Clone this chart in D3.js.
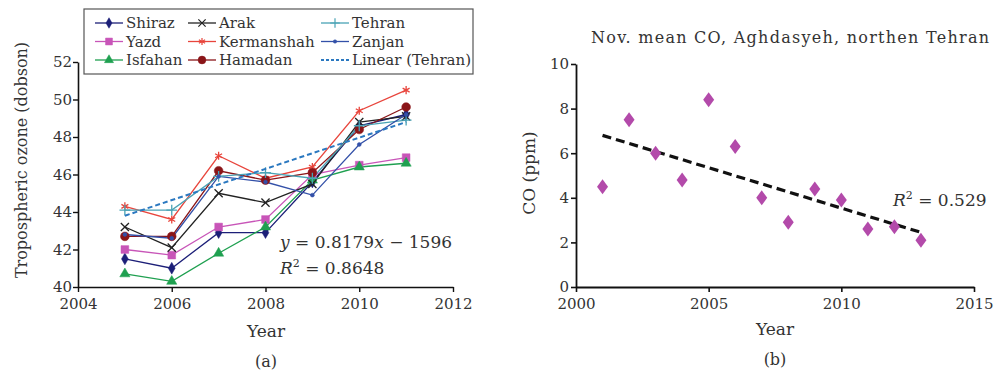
<!DOCTYPE html>
<html><head><meta charset="utf-8">
<script src="https://cdn.jsdelivr.net/npm/d3@7"></script>
<style>
html,body{margin:0;padding:0;background:#fff;}
svg{display:block;font-family:"DejaVu Serif","Liberation Serif",serif;}
</style></head><body>
<svg id="c" width="996" height="376"></svg>
<script>
// ---------- data (a) ----------
const yearsA = [2005, 2006, 2007, 2008, 2009, 2010, 2011];
const shiraz     = [41.5, 41.0, 42.9, 42.9, 45.6, 48.6, 49.2];
const yazd       = [42.0, 41.7, 43.2, 43.6, 46.0, 46.5, 46.9];
const isfahan    = [40.7, 40.3, 41.8, 43.2, 45.7, 46.4, 46.6];
const arak       = [43.2, 42.1, 45.0, 44.5, 45.5, 48.8, 49.1];
const kermanshah = [44.3, 43.6, 47.0, 45.8, 46.4, 49.4, 50.5];
const hamadan    = [42.7, 42.7, 46.2, 45.7, 46.1, 48.4, 49.6];
const tehran     = [44.1, 44.1, 45.9, 46.1, 45.8, 48.6, 48.9];
const zanjan     = [42.8, 42.6, 45.9, 45.6, 44.9, 47.6, 49.2];
const trendYearsA = [2005, 2011];
const trendTehran = [43.8, 48.8];
const xTicksA = [2004, 2006, 2008, 2010, 2012];
const yTicksA = [40, 42, 44, 46, 48, 50, 52];

// ---------- data (b) ----------
const yearsB = [2001,2002,2003,2004,2005,2006,2007,2008,2009,2010,2011,2012,2013];
const coValues = [4.5, 7.5, 6.0, 4.8, 8.4, 6.3, 4.0, 2.9, 4.4, 3.9, 2.6, 2.7, 2.1];
const trendYearsB = [2001, 2013];
const trendCO = [6.8, 2.45];
const xTicksB = [2000, 2005, 2010, 2015];
const yTicksB = [0, 2, 4, 6, 8, 10];

const seriesA = [
  {name:"Shiraz", values:shiraz, color:"#1c1f78", sym:d3.symbolDiamond, size:40, fill:true},
  {name:"Yazd", values:yazd, color:"#c855b8", sym:d3.symbolSquare, size:60, fill:true},
  {name:"Isfahan", values:isfahan, color:"#1fa050", sym:d3.symbolTriangle, size:45, fill:true},
  {name:"Arak", values:arak, color:"#222222", sym:d3.symbolTimes, size:45, fill:false},
  {name:"Kermanshah", values:kermanshah, color:"#e8453c", sym:d3.symbolAsterisk, size:45, fill:false},
  {name:"Hamadan", values:hamadan, color:"#8a1518", sym:d3.symbolCircle, size:60, fill:true},
  {name:"Tehran", values:tehran, color:"#4aa3b5", sym:d3.symbolPlus, size:40, fill:false},
  {name:"Zanjan", values:zanjan, color:"#3350a8", sym:d3.symbolCircle, size:12, fill:true}
];
const legendOrder = ["Shiraz","Yazd","Isfahan","Arak","Kermanshah","Hamadan","Tehran","Zanjan"];

const svg = d3.select("#c");
const txt = "#333";
const FS = 15;

// ================= Chart (a) =================
const xA = d3.scaleLinear().domain([2004, 2012]).range([78, 453]);
const yA = d3.scaleLinear().domain([40, 52]).range([287, 62]);

const gA = svg.append("g");
const axXA = gA.append("g").attr("transform", `translate(0,${yA(40)})`)
  .call(d3.axisBottom(xA).tickValues(xTicksA).tickFormat(d3.format("d")).tickSize(5).tickSizeOuter(0));
const axYA = gA.append("g").attr("transform", `translate(${xA(2004)},0)`)
  .call(d3.axisLeft(yA).tickValues(yTicksA).tickSize(5).tickSizeOuter(0));
[axXA, axYA].forEach(a => {
  a.select(".domain").attr("stroke", "#111").attr("stroke-width", 1.6);
  a.selectAll(".tick line").attr("stroke", "#111").attr("stroke-width", 1.4);
  a.selectAll(".tick text").attr("fill", txt).attr("font-size", FS).attr("font-family", "DejaVu Serif");
});
axXA.selectAll(".tick text").attr("dy", "0.95em");
axYA.selectAll(".tick text").attr("x", -6);

const lineA = d3.line().x((d,i) => xA(yearsA[i])).y(d => yA(d));
seriesA.forEach(s => {
  gA.append("path").datum(s.values).attr("d", lineA)
    .attr("fill", "none").attr("stroke", s.color).attr("stroke-width", 1.3);
});
seriesA.forEach(s => {
  const sym = d3.symbol().type(s.sym).size(s.size);
  gA.selectAll(null).data(s.values).enter().append("path")
    .attr("d", sym)
    .attr("transform", (d,i) => `translate(${xA(yearsA[i])},${yA(d)})`)
    .attr("fill", s.fill ? s.color : "none")
    .attr("stroke", s.color).attr("stroke-width", s.fill ? 0.5 : 1.3);
});
// linear trend Tehran
gA.append("path").datum(trendTehran)
  .attr("d", d3.line().x((d,i) => xA(trendYearsA[i])).y(d => yA(d)))
  .attr("fill", "none").attr("stroke", "#2a78c0").attr("stroke-width", 2).attr("stroke-dasharray", "5,3");

// equation
const eq = gA.append("text").attr("x", 280).attr("y", 248).attr("fill", txt).attr("font-size", 17);
eq.append("tspan").attr("font-style", "italic").text("y");
eq.append("tspan").text(" = 0.8179");
eq.append("tspan").attr("font-style", "italic").text("x");
eq.append("tspan").text(" − 1596");
const r2a = gA.append("text").attr("x", 280).attr("y", 274).attr("fill", txt).attr("font-size", 17);
r2a.append("tspan").attr("font-style", "italic").text("R");
r2a.append("tspan").attr("font-size", 11).attr("dy", -7).text("2");
r2a.append("tspan").attr("dy", 7).text(" = 0.8648");

// axis titles
gA.append("text").attr("transform", "translate(27,160) rotate(-90)").attr("text-anchor", "middle")
  .attr("fill", txt).attr("font-size", 16).text("Tropospheric ozone (dobson)");
gA.append("text").attr("x", 266).attr("y", 337).attr("text-anchor", "middle")
  .attr("fill", txt).attr("font-size", 17).text("Year");
gA.append("text").attr("x", 266).attr("y", 367).attr("text-anchor", "middle")
  .attr("fill", txt).attr("font-size", 16).text("(a)");

// legend
const leg = gA.append("g");
leg.append("rect").attr("x", 84).attr("y", 9).attr("width", 389).attr("height", 65)
  .attr("fill", "#fff").attr("stroke", "#555").attr("stroke-width", 1.2);
const colX = [95, 188, 321];
const rowY = [23, 41.5, 60];
legendOrder.forEach((n, k) => {
  const s = seriesA.find(t => t.name === n);
  const cx = colX[Math.floor(k / 3)], cy = rowY[k % 3];
  leg.append("line").attr("x1", cx).attr("x2", cx + 28).attr("y1", cy).attr("y2", cy)
    .attr("stroke", s.color).attr("stroke-width", 1.3);
  leg.append("path").attr("d", d3.symbol().type(s.sym).size(s.size * 0.8)())
    .attr("transform", `translate(${cx + 14},${cy})`)
    .attr("fill", s.fill ? s.color : "none").attr("stroke", s.color).attr("stroke-width", s.fill ? 0.5 : 1.2);
  leg.append("text").attr("x", cx + 31).attr("y", cy).attr("dy", "0.36em")
    .attr("fill", txt).attr("font-size", FS).text(n);
});
leg.append("line").attr("x1", colX[2]).attr("x2", colX[2] + 28).attr("y1", rowY[2]).attr("y2", rowY[2])
  .attr("stroke", "#2a78c0").attr("stroke-width", 2).attr("stroke-dasharray", "3,2");
leg.append("text").attr("x", colX[2] + 31).attr("y", rowY[2]).attr("dy", "0.36em")
  .attr("fill", txt).attr("font-size", FS).text("Linear (Tehran)");

// ================= Chart (b) =================
const xB = d3.scaleLinear().domain([2000, 2015]).range([576, 974]);
const yB = d3.scaleLinear().domain([0, 10]).range([287, 64]);
const gB = svg.append("g");
const axXB = gB.append("g").attr("transform", `translate(0,${yB(0)})`)
  .call(d3.axisBottom(xB).tickValues(xTicksB).tickFormat(d3.format("d")).tickSize(5).tickSizeOuter(0));
const axYB = gB.append("g").attr("transform", `translate(${xB(2000)},0)`)
  .call(d3.axisLeft(yB).tickValues(yTicksB).tickSize(5).tickSizeOuter(0));
[axXB, axYB].forEach(a => {
  a.select(".domain").attr("stroke", "#111").attr("stroke-width", 1.8);
  a.selectAll(".tick line").attr("stroke", "#111").attr("stroke-width", 1.6);
  a.selectAll(".tick text").attr("fill", txt).attr("font-size", FS).attr("font-family", "DejaVu Serif");
});
axXB.selectAll(".tick text").attr("dy", "0.95em");
axYB.selectAll(".tick text").attr("x", -7);

gB.append("path").datum(trendCO)
  .attr("d", d3.line().x((d,i) => xB(trendYearsB[i])).y(d => yB(d)))
  .attr("fill", "none").attr("stroke", "#111").attr("stroke-width", 3.2).attr("stroke-dasharray", "9,5");

gB.selectAll(null).data(coValues).enter().append("path")
  .attr("d", "M0,-7.5L5.5,0L0,7.5L-5.5,0Z")
  .attr("transform", (d,i) => `translate(${xB(yearsB[i])},${yB(d)})`)
  .attr("fill", "#b34aaa");

gB.append("text").attr("x", 790).attr("y", 43).attr("text-anchor", "middle")
  .attr("fill", txt).attr("font-size", 16).attr("textLength", 398).text("Nov. mean CO, Aghdasyeh, northen Tehran");
gB.append("text").attr("transform", "translate(535,173) rotate(-90)").attr("text-anchor", "middle")
  .attr("fill", txt).attr("font-size", 17).text("CO (ppm)");
const r2b = gB.append("text").attr("x", 893).attr("y", 206).attr("fill", txt).attr("font-size", 17);
r2b.append("tspan").attr("font-style", "italic").text("R");
r2b.append("tspan").attr("font-size", 11).attr("dy", -7).text("2");
r2b.append("tspan").attr("dy", 7).text(" =  0.529");
gB.append("text").attr("x", 775).attr("y", 335).attr("text-anchor", "middle")
  .attr("fill", txt).attr("font-size", 17).text("Year");
gB.append("text").attr("x", 775).attr("y", 365).attr("text-anchor", "middle")
  .attr("fill", txt).attr("font-size", 16).text("(b)");
</script>
</body></html>
